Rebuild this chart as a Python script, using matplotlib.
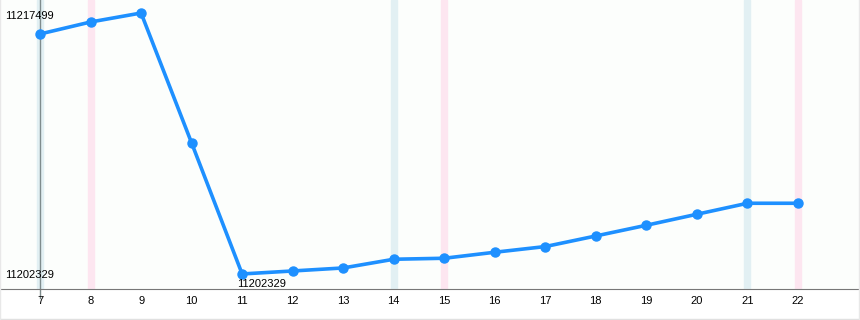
import numpy as np
import matplotlib
matplotlib.use("Agg")
import matplotlib.pyplot as plt

plt.rcParams["font.family"] = ["Liberation Sans", "DejaVu Sans"]

days = [7, 8, 9, 10, 11, 12, 13, 14, 15, 16, 17, 18, 19, 20, 21, 22]
values = [11216279, 11216976, 11217499, 11209946, 11202329, 11202503, 11202678,
          11203184, 11203242, 11203591, 11203922, 11204538, 11205160, 11205800,
          11206439, 11206439]
blue_days = [7, 14, 21]
pink_days = [8, 15, 22]

fig = plt.figure(figsize=(8.6, 3.2), dpi=100)
fig.patch.set_facecolor("white")
ax = fig.add_axes([0, 0.097, 1, 0.903])
ax.set_facecolor("#fcfefc")

# weekend bands
for d in blue_days:
    ax.axvspan(d - 0.06, d + 0.06, color="#e2f0f3", zorder=0)
for d in pink_days:
    ax.axvspan(d - 0.06, d + 0.06, color="#fde6f0", zorder=0)

ax.axvline(7, color="#7f8c8d", lw=1, zorder=1, ymin=-0.03, clip_on=False)

ax.plot(days, values, color="#1e90ff", lw=2.6, marker="o", ms=6.5, zorder=3)

ymin, ymax = min(values), max(values)
ax.set_xlim(6.208, 23.228)
ax.set_ylim(11201457, 11218255)

fs = 8
ax.text(6.3, ymax - 150, str(ymax), fontsize=fs, va="center", ha="left")
ax.text(6.3, ymin - 50, str(ymin), fontsize=fs, va="center", ha="left")
imin = values.index(ymin)
ax.text(days[imin] - 0.1, ymin - 300, str(ymin), fontsize=fs, va="top", ha="left")

for s in ["top", "right", "left"]:
    ax.spines[s].set_visible(False)
ax.spines["bottom"].set_color("#777777")
ax.set_yticks([])
ax.set_xticks(days)
ax.set_xticklabels([str(d) for d in days], fontsize=fs)
ax.tick_params(axis="x", length=0, pad=5)

fig.add_artist(plt.Line2D([0, 1], [0.004, 0.004], color="#e0e0e0", lw=1))
fig.add_artist(plt.Line2D([0.999, 0.999], [0, 1], color="#e8e8e8", lw=1))
fig.add_artist(plt.Line2D([0, 0], [0, 1], color="#e8e8e8", lw=1))

fig.savefig("out.png", dpi=100)
